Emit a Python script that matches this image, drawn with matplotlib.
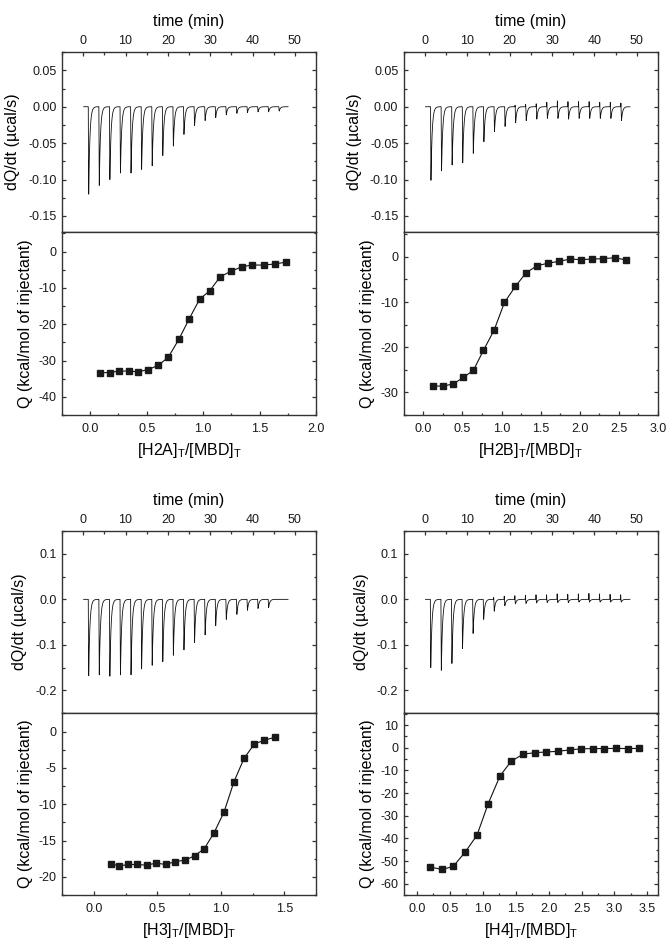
import numpy as np
import matplotlib
matplotlib.use('Agg')
import matplotlib.pyplot as plt
from matplotlib.ticker import MultipleLocator, FormatStrFormatter

plt.rcParams['font.family'] = ['Liberation Sans', 'DejaVu Sans']
plt.rcParams['axes.unicode_minus'] = False
plt.rcParams['mathtext.fontset'] = 'custom'
plt.rcParams['mathtext.rm'] = 'Liberation Sans'

# injection peak depths (ucal/s)
h2a_peaks = [-0.120, -0.108, -0.100, -0.091, -0.091, -0.086, -0.081, -0.067, -0.054,
             -0.038, -0.026, -0.019, -0.015, -0.011, -0.009, -0.008, -0.007, -0.007, -0.006]
h2b_peaks = [-0.101, -0.088, -0.080, -0.077, -0.064, -0.048, -0.034, -0.027, -0.022,
             -0.019, -0.017, -0.016, -0.016, -0.017, -0.016, -0.016, -0.016, -0.016, -0.019]
h3_peaks = [-0.168, -0.166, -0.169, -0.166, -0.166, -0.153, -0.145, -0.137, -0.123,
            -0.111, -0.095, -0.078, -0.058, -0.044, -0.033, -0.024, -0.020, -0.018]
h4_peaks = [-0.150, -0.156, -0.141, -0.108, -0.075, -0.044, -0.026, -0.014, -0.010,
            -0.009, -0.008, -0.007, -0.007, -0.007, -0.006, -0.006, -0.006, -0.006, -0.006]
# small positive mixing spikes on later injections
h2b_up = [0, 0, 0, 0, 0, 0, 0, 0, 0.002, 0.003, 0.004, 0.006, 0.008, 0.007, 0.007,
          0.007, 0.006, 0.006, 0.005]
h4_up = [0, 0, 0, 0, 0, 0, 0.004, 0.007, 0.008, 0.009, 0.010, 0.010, 0.012, 0.011,
         0.012, 0.013, 0.012, 0.011, 0.010]
first_injection = [1.2, 1.3, 1.2, 1.25]
injection_step = 2.5

# integrated heats (kcal/mol of injectant) vs molar ratio
h2a_x = [0.083, 0.171, 0.254, 0.340, 0.425, 0.514, 0.603, 0.691, 0.786, 0.875,
         0.969, 1.058, 1.152, 1.247, 1.341, 1.430, 1.536, 1.637, 1.734]
h2a_q = [-33.4, -33.3, -32.9, -32.9, -33.1, -32.5, -31.3, -29.1, -24.1, -18.6,
         -13.1, -10.8, -6.9, -5.4, -4.2, -3.7, -3.7, -3.4, -2.9]
h2b_x = [0.128, 0.256, 0.384, 0.512, 0.640, 0.768, 0.905, 1.037, 1.178, 1.315,
         1.451, 1.592, 1.733, 1.874, 2.015, 2.156, 2.297, 2.450, 2.595]
h2b_q = [-28.6, -28.6, -28.1, -26.7, -25.1, -20.7, -16.2, -10.1, -6.5, -3.5,
         -2.0, -1.4, -1.0, -0.5, -0.6, -0.5, -0.4, -0.2, -0.7]
h3_x = [0.132, 0.201, 0.272, 0.343, 0.417, 0.491, 0.565, 0.642, 0.718, 0.795,
        0.871, 0.948, 1.025, 1.104, 1.183, 1.265, 1.344, 1.423]
h3_q = [-18.2, -18.5, -18.3, -18.3, -18.4, -18.1, -18.3, -17.9, -17.7, -17.1,
        -16.1, -13.9, -11.1, -6.9, -3.7, -1.7, -1.2, -0.8]
h4_x = [0.20, 0.38, 0.55, 0.73, 0.91, 1.08, 1.26, 1.43, 1.61, 1.79,
        1.96, 2.14, 2.32, 2.49, 2.67, 2.84, 3.02, 3.20, 3.37]
h4_q = [-52.7, -53.7, -52.4, -46.1, -38.7, -24.8, -12.5, -6.0, -2.9, -2.2,
        -1.9, -1.6, -1.0, -0.5, -0.4, -0.4, -0.3, -0.4, -0.3]

x_labels = [r'[H2A]$_\mathregular{T}$/[MBD]$_\mathregular{T}$',
            r'[H2B]$_\mathregular{T}$/[MBD]$_\mathregular{T}$',
            r'[H3]$_\mathregular{T}$/[MBD]$_\mathregular{T}$',
            r'[H4]$_\mathregular{T}$/[MBD]$_\mathregular{T}$']

spine_c = '#333333'


def thermogram(t0, peaks, up):
    t = np.arange(0.1, 48.4, 0.01)
    sig = np.zeros_like(t)
    for i, d in enumerate(peaks):
        ti = t0 + i * injection_step
        dt = t - ti
        rise = (dt >= 0) & (dt < 0.1)
        sig[rise] += d * dt[rise] / 0.1
        dec = dt >= 0.1
        sig[dec] += d * np.exp(-(dt[dec] - 0.1) / 0.28)
        if up is not None and up[i] > 0:
            sp = (dt >= -0.08) & (dt < 0)
            sig[sp] += up[i] * (1 - np.abs(dt[sp] + 0.04) / 0.04)
    return t, sig


def style(ax, which):
    for s in ax.spines.values():
        s.set_color(spine_c)
        s.set_linewidth(1.0)
    ax.tick_params(which='both', direction='in', colors=spine_c, labelcolor='#1a1a1a',
                   labelsize=9, width=0.9)
    ax.tick_params(which='major', length=3.2)
    ax.tick_params(which='minor', length=1.8)
    if which == 'top':
        ax.tick_params(which='both', top=True, bottom=False, right=True, left=True,
                       labeltop=True, labelbottom=False, pad=4)
    else:
        ax.tick_params(which='both', top=False, bottom=True, right=True, left=True, pad=4)
        ax.tick_params(axis='x', pad=6)


panels = [
    (0.0923, 0.755, 0.5618, h2a_peaks, None, (-0.172, 0.075), 0.05, '%.2f',
     h2a_x, h2a_q, (-0.25, 2.0), (-45, 5.4), 10),
    (0.601, 0.755, 0.5618, h2b_peaks, h2b_up, (-0.172, 0.075), 0.05, '%.2f',
     h2b_x, h2b_q, (-0.25, 3.0), (-35, 5.5), 10),
    (0.0923, 0.2471, 0.0549, h3_peaks, None, (-0.25, 0.15), 0.1, '%.1f',
     h3_x, h3_q, (-0.25, 1.75), (-22.5, 2.55), 5),
    (0.601, 0.2471, 0.0549, h4_peaks, h4_up, (-0.25, 0.15), 0.1, '%.1f',
     h4_x, h4_q, (-0.2, 3.66), (-65, 15.3), 10),
]

fig = plt.figure(figsize=(6.72, 9.47), dpi=100)
w = 0.378
for k, (left, top_b, bot_b, peaks, up, ylim_t, ystep, yfmt,
        xs, qs, xlim_b, ylim_b, qstep) in enumerate(panels):
    h_top = 0.190 if k < 2 else 0.192
    h_bot = top_b - bot_b
    ax_t = fig.add_axes([left, top_b, w, h_top])
    ax_b = fig.add_axes([left, bot_b, w, h_bot])

    t, sig = thermogram(first_injection[k], peaks, up)
    ax_t.plot(t, sig, color='#111111', lw=0.6)
    ax_t.set_xlim(-5, 55)
    ax_t.set_ylim(*ylim_t)
    ax_t.xaxis.set_label_position('top')
    ax_t.set_xlabel('time (min)', fontsize=11.5, labelpad=6)
    ax_t.set_ylabel('dQ/dt (\u00b5cal/s)', fontsize=11.5, labelpad=6)
    ax_t.xaxis.set_major_locator(MultipleLocator(10))
    ax_t.xaxis.set_minor_locator(MultipleLocator(5))
    ax_t.yaxis.set_major_locator(MultipleLocator(ystep))
    ax_t.yaxis.set_minor_locator(MultipleLocator(ystep / 2))
    ax_t.yaxis.set_major_formatter(FormatStrFormatter(yfmt))
    style(ax_t, 'top')

    ax_b.plot(xs, qs, color='#111111', lw=0.8, marker='s', ms=5,
              mfc='#1a1a1a', mec='#1a1a1a')
    ax_b.set_xlim(*xlim_b)
    ax_b.set_ylim(*ylim_b)
    ax_b.set_xlabel(x_labels[k], fontsize=11.5, labelpad=4)
    ax_b.set_ylabel('Q (kcal/mol of injectant)', fontsize=11.5, labelpad=4)
    ax_b.xaxis.set_major_locator(MultipleLocator(0.5))
    ax_b.xaxis.set_minor_locator(MultipleLocator(0.25))
    ax_b.xaxis.set_major_formatter(FormatStrFormatter('%.1f'))
    ax_b.yaxis.set_major_locator(MultipleLocator(qstep))
    ax_b.yaxis.set_minor_locator(MultipleLocator(qstep / 2))
    ax_b.yaxis.set_major_formatter(FormatStrFormatter('%d'))
    style(ax_b, 'bottom')

fig.savefig('out.png', dpi=100)
